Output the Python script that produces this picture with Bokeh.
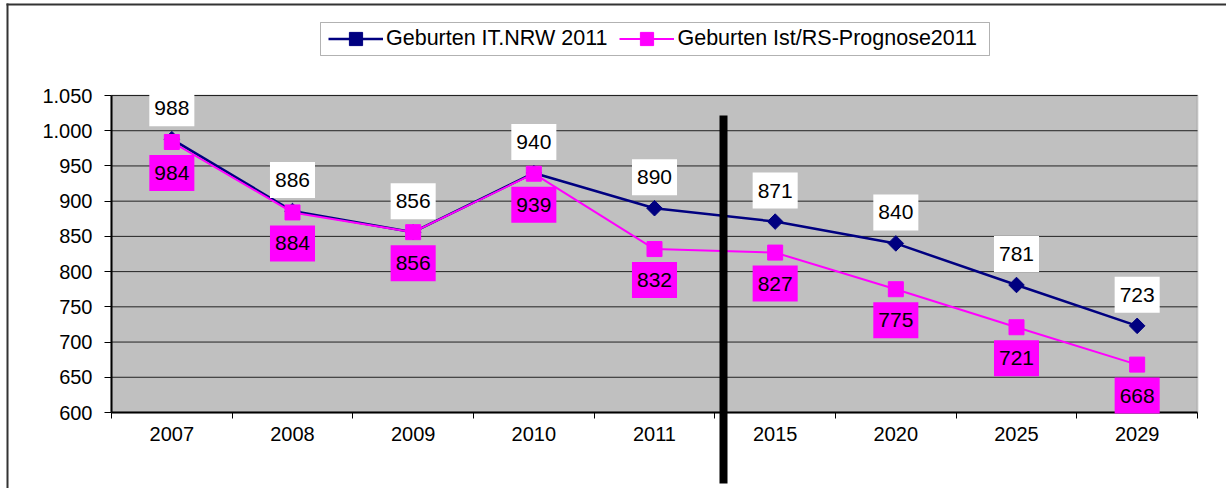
from bokeh.plotting import figure
from bokeh.models import (Range1d, FixedTicker, CustomJSTickFormatter,
                          ColumnDataSource, Label, Legend, LegendItem, BoxAnnotation)
from bokeh.embed import file_html
from bokeh.resources import INLINE
import numpy as np

# ---- data ----
years = ["2007", "2008", "2009", "2010", "2011", "2015", "2020", "2025", "2029"]
it_nrw = [988, 886, 856, 940, 890, 871, 840, 781, 723]
rs_prognose = [984, 884, 856, 939, 832, 827, 775, 721, 668]
series_names = ["Geburten IT.NRW 2011", "Geburten Ist/RS-Prognose2011"]
y_ticks = [600, 650, 700, 750, 800, 850, 900, 950, 1000, 1050]
y_tick_labels = ["600", "650", "700", "750", "800", "850", "900", "950", "1.000", "1.050"]

FONT = "Liberation Sans"
NAVY = "#000080"
MAGENTA = "#FF00FF"

n = len(years)
centers = [i + 0.5 for i in range(n)]  # category slot centres
Y0, Y1 = y_ticks[0], y_ticks[-1]

# canvas geometry (px) of the plotting area
W, H = 1226, 488
PL, PR, PT, PB = 111, 1197, 95, 412
xs = n / (PR - PL)
ys = (Y1 - Y0) / (PB - PT)
x_range = Range1d(-PL * xs, n + (W - PR) * xs)
y_range = Range1d(Y0 - (H - PB) * ys, Y1 + PT * ys)

src = ColumnDataSource(dict(x=centers, a=it_nrw, b=rs_prognose))

p = figure(width=W, height=H, x_range=x_range, y_range=y_range,
           output_backend="svg", toolbar_location=None,
           min_border=0, min_border_left=0, min_border_right=0,
           min_border_top=0, min_border_bottom=0,
           background_fill_color="white", border_fill_color="white")
p.outline_line_color = None
p.grid.visible = False

# outer chart border (only top/left fall inside the window)
p.add_layout(BoxAnnotation(left=6, right=8, top=3, bottom=H, left_units="canvas",
                           right_units="canvas", top_units="canvas", bottom_units="canvas",
                           fill_color="#333333", fill_alpha=1, line_color=None))
p.add_layout(BoxAnnotation(left=6, right=W, top=3, bottom=5, left_units="canvas",
                           right_units="canvas", top_units="canvas", bottom_units="canvas",
                           fill_color="#333333", fill_alpha=1, line_color=None))

# plot area (grey) with grey border
area = BoxAnnotation(left=0, right=n, bottom=Y0, top=Y1, fill_color="#C0C0C0", fill_alpha=1,
                     line_color="#808080", line_width=2, level="image")
p.add_layout(area)

# horizontal gridlines
p.segment(x0=0, x1=n, y0=y_ticks[1:], y1=y_ticks[1:], line_color="#222222", line_width=1,
          level="underlay")

xaxis = p.xaxis[0]
xaxis.fixed_location = Y0
xaxis.bounds = (0, n)
xaxis.ticker = FixedTicker(ticks=centers, minor_ticks=list(range(n + 1)))
xaxis.formatter = CustomJSTickFormatter(args=dict(labels=years),
                                        code="return labels[Math.floor(tick)];")
xaxis.major_tick_out = 0
xaxis.major_tick_in = 0
xaxis.minor_tick_out = 6
xaxis.minor_tick_in = 0
xaxis.minor_tick_line_color = "black"
xaxis.axis_line_color = "black"
xaxis.axis_line_width = 2
xaxis.major_label_standoff = 8
xaxis.major_label_text_font = FONT
xaxis.major_label_text_font_size = "20px"
xaxis.major_label_text_color = "black"

yaxis = p.yaxis[0]
yaxis.fixed_location = 0
yaxis.bounds = (Y0, Y1)
yaxis.ticker = FixedTicker(ticks=y_ticks, minor_ticks=[])
yaxis.major_label_overrides = dict(zip(y_ticks, y_tick_labels))
yaxis.major_tick_out = 7
yaxis.major_tick_in = 0
yaxis.major_tick_line_color = "black"
yaxis.minor_tick_line_color = None
yaxis.axis_line_color = "black"
yaxis.axis_line_width = 2
yaxis.major_label_standoff = 12
yaxis.major_label_text_font = FONT
yaxis.major_label_text_font_size = "20px"
yaxis.major_label_text_color = "black"

l1 = p.line("x", "a", source=src, line_color=NAVY, line_width=2.5)
s1 = p.scatter("x", "a", source=src, marker="square", angle=np.pi / 4, size=11,
               fill_color=NAVY, line_color=NAVY)
l2 = p.line("x", "b", source=src, line_color=MAGENTA, line_width=2)
s2 = p.scatter("x", "b", source=src, marker="square", size=15,
               fill_color=MAGENTA, line_color=MAGENTA)

# data labels
for xi, v in zip(centers, it_nrw):
    p.add_layout(Label(x=xi, y=v, y_offset=31, text=str(v), text_align="center",
                       text_baseline="middle", text_font=FONT, text_font_size="21px",
                       text_color="black", background_fill_color="white", padding=(5, 11)))
for xi, v in zip(centers, rs_prognose):
    p.add_layout(Label(x=xi, y=v, y_offset=-31, text=str(v), text_align="center",
                       text_baseline="middle", text_font=FONT, text_font_size="21px",
                       text_color="black", background_fill_color=MAGENTA, padding=(5, 11)))

# separator bar between actual and forecast years
bar = BoxAnnotation(left=(719 - PL) * xs, right=(727 - PL) * xs,
                    top=Y1 - (115 - PT) * ys, bottom=Y0 - (483 - PB) * ys,
                    fill_color="black", fill_alpha=1, line_color=None, level="overlay")
p.add_layout(bar)

# legend frame
p.add_layout(BoxAnnotation(left=320, right=989, top=22, bottom=55, left_units="canvas",
                           right_units="canvas", top_units="canvas", bottom_units="canvas",
                           fill_color="white", fill_alpha=1, line_color="black", line_width=1))

legend = Legend(items=[LegendItem(label=series_names[0], renderers=[l1, s1]),
                       LegendItem(label=series_names[1], renderers=[l2, s2])],
                orientation="horizontal", location=(328, H - 55),
                label_text_font=FONT, label_text_font_size="21.5px", label_text_color="black",
                glyph_width=55, glyph_height=33, label_standoff=3, spacing=12,
                padding=0, margin=0, border_line_color=None,
                background_fill_alpha=0)
p.add_layout(legend)

open("out.html", "w").write(file_html(p, INLINE))
